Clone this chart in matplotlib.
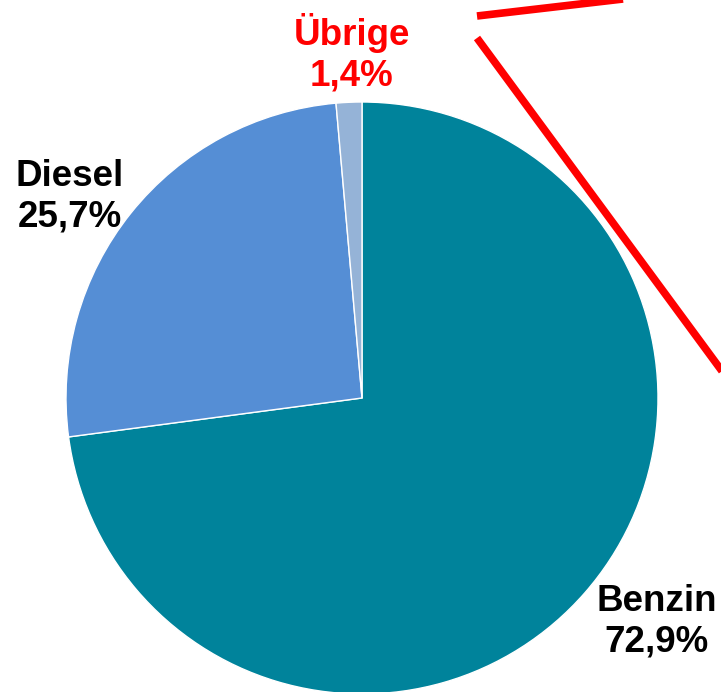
import matplotlib
matplotlib.use("Agg")
import matplotlib.pyplot as plt

labels = ["Benzin", "Diesel", "Übrige"]
shares = [72.9, 25.7, 1.4]
colors = ["#00839B", "#558ED5", "#95B3D7"]

W, H = 721, 692
fig = plt.figure(figsize=(W / 100, H / 100), dpi=100)
ax = fig.add_axes([0, 0, 1, 1])

cx, cy, r = 362, H - 398, 296
ax.pie(shares, colors=colors, startangle=90, counterclock=False,
       center=(cx, cy), radius=r, frame=True,
       wedgeprops=dict(edgecolor="white", linewidth=1))
ax.set_xlim(0, W)
ax.set_ylim(0, H)
ax.set_aspect("equal")
ax.axis("off")

font = dict(family=["Liberation Sans", "DejaVu Sans"], fontsize=26.5,
            fontweight="bold", ha="center", va="center", linespacing=1.2)
ax.text(657, H - 622, "Benzin\n72,9%", color="black", **font)
ax.text(70, H - 197, "Diesel\n25,7%", color="black", **font)
ax.text(352, H - 53, "Übrige\n1,4%", color="#FF0000", **font)

# callout lines towards the (cut-off) detail
ax.plot([477, 623], [H - 16, H + 1], color="#FF0000", lw=5.5,
        solid_capstyle="butt")
ax.plot([477, 730], [H - 38, H - 382], color="#FF0000", lw=5.5,
        solid_capstyle="butt")

fig.savefig("out.png", dpi=100)
